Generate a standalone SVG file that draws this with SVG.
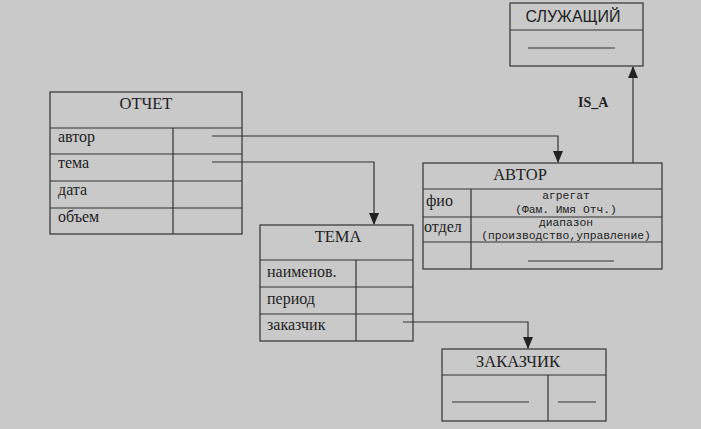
<svg xmlns="http://www.w3.org/2000/svg" width="701" height="429" viewBox="0 0 701 429">
<style>
.box{fill:#c9c9c9;stroke:#333;stroke-width:1.2}
.ln{stroke:#333;stroke-width:1.2;fill:none}
.h{font-size:16.5px;text-anchor:middle}
.r{font-size:16px}
.m{font-size:11.3px;text-anchor:middle}
</style>
<defs>
<marker id="ar" markerWidth="10" markerHeight="12" refX="5" refY="11" markerUnits="userSpaceOnUse" viewBox="0 0 10 12">
<path d="M0,0 L10,0 L5,12 Z" fill="#222"/>
</marker>
<marker id="au" markerWidth="10" markerHeight="12" refX="5" refY="1" markerUnits="userSpaceOnUse" viewBox="0 0 10 12">
<path d="M0,12 L10,12 L5,0 Z" fill="#222"/>
</marker>
</defs>
<rect width="701" height="429" fill="#c9c9c9"/>
<g id="otchet" font-family="Liberation Serif, serif" fill="#222">
<rect class="box" x="50" y="92" width="192" height="142"/>
<path class="ln" d="M50,128H242M50,154H242M50,181H242M50,208H242M173,128V234"/>
<text class="h" x="146" y="109">ОТЧЕТ</text>
<text class="r" x="58" y="142">автор</text>
<text class="r" x="58" y="168">тема</text>
<text class="r" x="58" y="195">дата</text>
<text class="r" x="58" y="222">объем</text>
</g>
<g id="tema" font-family="Liberation Serif, serif" fill="#222">
<rect class="box" x="260" y="225" width="153" height="116"/>
<path class="ln" d="M260,260H413M260,287H413M260,314H413M356,260V341"/>
<text class="h" x="338" y="242">ТЕМА</text>
<text class="r" x="267" y="277">наименов.</text>
<text class="r" x="267" y="304">период</text>
<text class="r" x="267" y="330">заказчик</text>
</g>
<g id="avtor" font-family="Liberation Serif, serif" fill="#222">
<rect class="box" x="423" y="163" width="239" height="106"/>
<path class="ln" d="M423,189H662M423,217H662M423,242H662M471,189V269M528,261H614"/>
<text class="h" x="520" y="180">АВТОР</text>
<text class="r" x="426" y="206">фио</text>
<text class="r" x="424" y="232">отдел</text>
<g font-family="Liberation Mono, monospace">
<text class="m" x="566" y="199">агрегат</text>
<text class="m" x="566" y="213">(Фам. Имя Отч.)</text>
<text class="m" x="566" y="226">диапазон</text>
<text class="m" x="566" y="239">(производство,управление)</text>
</g>
</g>
<g id="sluzh" fill="#222">
<rect class="box" x="510" y="3" width="133" height="63"/>
<path class="ln" d="M510,30H643M528,48H615"/>
<text x="573" y="22" font-family="Liberation Sans, sans-serif" font-size="16" text-anchor="middle">СЛУЖАЩИЙ</text>
</g>
<g id="zakazchik" font-family="Liberation Serif, serif" fill="#222">
<rect class="box" x="442" y="349" width="164" height="72"/>
<path class="ln" d="M442,375H606M548,375V421M452,402H529M558,402H596"/>
<text class="h" x="518" y="367">ЗАКАЗЧИК</text>
</g>
<g id="connectors">
<path class="ln" d="M212,136H558V162" marker-end="url(#ar)"/>
<path class="ln" d="M212,162H374V224" marker-end="url(#ar)"/>
<path class="ln" d="M403,322H528V348" marker-end="url(#ar)"/>
<path class="ln" d="M633,163V67" marker-end="url(#au)"/>
<text x="578" y="107" font-family="Liberation Serif, serif" font-weight="bold" font-size="14" fill="#222">IS_A</text>
</g>
</svg>
